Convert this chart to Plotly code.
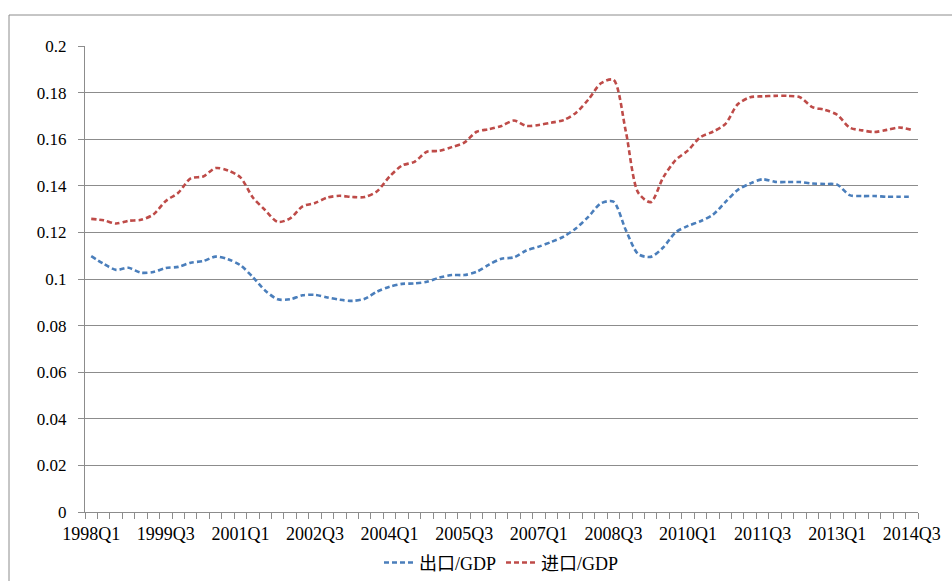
import plotly.graph_objects as go

# Quarterly periods 1998Q1 .. 2014Q3
quarters = [f"{y}Q{q}" for y in range(1998, 2015) for q in range(1, 5)][:67]

# 出口/GDP (exports over GDP)
export_ratio = [
    0.1098, 0.1065, 0.1039, 0.1048, 0.1027, 0.1030, 0.1047, 0.1052, 0.1070, 0.1077,
    0.1096, 0.1085, 0.1059, 0.1008, 0.0950, 0.0913, 0.0913, 0.0930, 0.0932, 0.0921,
    0.0911, 0.0906, 0.0915, 0.0946, 0.0967, 0.0979, 0.0981, 0.0988, 0.1006, 0.1017,
    0.1017, 0.1031, 0.1062, 0.1087, 0.1093, 0.1122, 0.1139, 0.1159, 0.1182, 0.1218,
    0.1268, 0.1325, 0.1332, 0.1210, 0.1107, 0.1095, 0.1135, 0.1200, 0.1228, 0.1248,
    0.1276, 0.1330, 0.1382, 0.1410, 0.1428, 0.1417, 0.1416, 0.1416, 0.1410, 0.1408,
    0.1405, 0.1360, 0.1356, 0.1356, 0.1353, 0.1353, 0.1353,
]

# 进口/GDP (imports over GDP)
import_ratio = [
    0.1258, 0.1252, 0.1238, 0.1250, 0.1254, 0.1277, 0.1335, 0.1370, 0.1432, 0.1440,
    0.1476, 0.1466, 0.1436, 0.1350, 0.1295, 0.1245, 0.1260, 0.1312, 0.1326, 0.1350,
    0.1357, 0.1352, 0.1352, 0.1377, 0.1440, 0.1487, 0.1503, 0.1546, 0.1550, 0.1566,
    0.1585, 0.1632, 0.1643, 0.1657, 0.1680, 0.1657, 0.1661, 0.1671, 0.1682, 0.1714,
    0.1771, 0.1840, 0.1855, 0.1633, 0.1370, 0.1330, 0.1435, 0.1510, 0.1552, 0.1609,
    0.1632, 0.1665, 0.1750, 0.1780, 0.1784, 0.1786, 0.1786, 0.1780, 0.1738, 0.1726,
    0.1705, 0.1650, 0.1638, 0.1631, 0.1640, 0.1650, 0.1640,
]

# Axis ticks
y_tick_vals = [0, 0.02, 0.04, 0.06, 0.08, 0.1, 0.12, 0.14, 0.16, 0.18, 0.2]
y_tick_text = ["0", "0.02", "0.04", "0.06", "0.08", "0.1", "0.12", "0.14", "0.16", "0.18", "0.2"]
x_label_step = 6

series_names = ["出口/GDP", "进口/GDP"]
series_colors = ["#4a7ebb", "#be4b48"]

GRID = "#8c8c8c"
FONT = "Liberation Serif, DejaVu Serif, Noto Sans CJK SC, serif"

n = len(quarters)
xs = list(range(n))
label_idx = list(range(0, n, x_label_step))

fig = go.Figure()
for name, vals, color in zip(series_names, [export_ratio, import_ratio], series_colors):
    fig.add_trace(go.Scatter(
        x=xs, y=vals, name=name, mode="lines",
        line=dict(color=color, width=2.6, dash="5px,3px", shape="spline", smoothing=0.8),
        hoverinfo="skip",
    ))

fig.update_layout(
    width=952, height=581,
    margin=dict(l=85, r=34, t=46, b=69, autoexpand=False),
    paper_bgcolor="white", plot_bgcolor="white",
    font=dict(family=FONT, color="#000000", size=17),
    showlegend=True,
    legend=dict(
        orientation="h", x=0.5, xanchor="center", y=-0.109, yanchor="middle",
        font=dict(size=18, family=FONT), itemwidth=30, tracegroupgap=0,
        bgcolor="rgba(0,0,0,0)",
    ),
    xaxis=dict(
        range=[-0.5, n - 0.5], showgrid=False, zeroline=False,
        showline=True, linecolor=GRID, linewidth=1,
        tickmode="array", tickvals=label_idx, ticktext=[quarters[i] for i in label_idx],
        ticks="outside", ticklen=5, tickcolor="rgba(0,0,0,0)",
        tickfont=dict(size=18, family=FONT),
        minor=dict(tickmode="array", tickvals=[i - 0.5 for i in range(n + 1)],
                   ticks="outside", ticklen=6, tickcolor=GRID, tickwidth=1, showgrid=False),
        fixedrange=True,
    ),
    yaxis=dict(
        range=[0, 0.2], showgrid=True, gridcolor=GRID, gridwidth=1, zeroline=False,
        showline=True, linecolor=GRID, linewidth=1,
        tickmode="array", tickvals=y_tick_vals, ticktext=y_tick_text,
        ticks="outside", ticklen=6, tickcolor=GRID,
        tickfont=dict(size=17, family=FONT), ticklabelstandoff=8,
        fixedrange=True,
    ),
)

# Chart-area frame (top and left edges visible on the page)
pw, ph = 952 - 85 - 34, 581 - 46 - 69
fig.add_shape(
    type="rect", xref="paper", yref="paper",
    x0=(9 - 85) / pw, x1=(960 - 85) / pw,
    y0=(512 - 600) / ph, y1=(512 - 15) / ph,
    line=dict(color=GRID, width=1), fillcolor="rgba(0,0,0,0)", layer="below",
)

fig.write_html("out.html", config={"displayModeBar": False})
